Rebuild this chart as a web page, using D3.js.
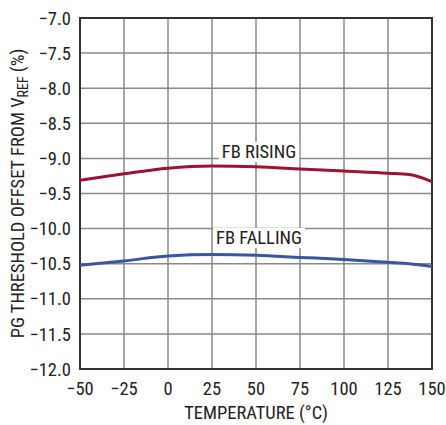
<!DOCTYPE html>
<html lang="en">
<head>
<meta charset="UTF-8">
<title>PG Threshold Offset</title>
<script src="https://d3js.org/d3.v7.min.js"></script>
<style>
    body { margin: 0; background: #fff; }
    svg { display: block; }
    text { font-family: 'Liberation Sans Narrow', 'Roboto Condensed', 'Liberation Sans', sans-serif; fill: #222; }
</style>
</head>
<body>
<script>
    const temps = [-50, -25, 0, 25, 50, 75, 100, 125, 137, 150];
    const fbRising = [-9.31, -9.22, -9.14, -9.11, -9.12, -9.15, -9.18, -9.21, -9.23, -9.33];
    const fbFalling = [-10.52, -10.46, -10.39, -10.37, -10.38, -10.41, -10.44, -10.48, -10.50, -10.54];
    const xTicks = [-50, -25, 0, 25, 50, 75, 100, 125, 150];
    const yTicks = [-7, -7.5, -8, -8.5, -9, -9.5, -10, -10.5, -11, -11.5, -12];

    const width = 446, height = 425;
    const pLeft = 80, pRight = 432, pTop = 18, pBottom = 369;
    const fs = 18.5;

    const svg = d3.select("body").append("svg")
        .attr("width", width)
        .attr("height", height);

    const x = d3.scaleLinear().domain([-50, 150]).range([pLeft, pRight]);
    const y = d3.scaleLinear().domain([-12, -7]).range([pBottom, pTop]);

    const minus = v => String(v).replace("-", "\u2212");

    // grid
    svg.append("g").selectAll("line").data(xTicks.slice(1, -1)).join("line")
        .attr("x1", d => x(d)).attr("x2", d => x(d))
        .attr("y1", pTop).attr("y2", pBottom)
        .attr("stroke", "#8a8a8a").attr("stroke-width", 1.5);
    svg.append("g").selectAll("line").data(yTicks.slice(1, -1)).join("line")
        .attr("x1", pLeft).attr("x2", pRight)
        .attr("y1", d => y(d)).attr("y2", d => y(d))
        .attr("stroke", "#8a8a8a").attr("stroke-width", 1.5);

    // frame
    svg.append("rect")
        .attr("x", pLeft).attr("y", pTop)
        .attr("width", pRight - pLeft).attr("height", pBottom - pTop)
        .attr("fill", "none").attr("stroke", "#333").attr("stroke-width", 2);

    // tick labels
    svg.append("g").selectAll("text").data(yTicks).join("text")
        .attr("x", pLeft - 9).attr("y", d => y(d)).attr("dy", "0.36em")
        .attr("text-anchor", "end").attr("font-size", fs)
        .text(d => minus(d.toFixed(1)));
    svg.append("g").selectAll("text").data(xTicks).join("text")
        .attr("x", d => x(d)).attr("y", pBottom + 26)
        .attr("text-anchor", "middle").attr("font-size", fs)
        .text(d => minus(d));

    // curves
    const line = d3.line()
        .x((d, i) => x(temps[i]))
        .y(d => y(d))
        .curve(d3.curveMonotoneX);

    svg.append("path").datum(fbRising)
        .attr("d", line).attr("fill", "none")
        .attr("stroke", "#9b1432").attr("stroke-width", 3);
    svg.append("path").datum(fbFalling)
        .attr("d", line).attr("fill", "none")
        .attr("stroke", "#3a55a6").attr("stroke-width", 3);

    // curve labels with white backing
    function curveLabel(txt, cx, by) {
        const t = svg.append("text")
            .attr("x", cx).attr("y", by)
            .attr("text-anchor", "middle").attr("font-size", fs)
            .text(txt);
        const b = t.node().getBBox();
        svg.insert("rect", () => t.node())
            .attr("x", b.x - 3).attr("y", b.y + 1)
            .attr("width", b.width + 6).attr("height", b.height - 2)
            .attr("fill", "#fff");
    }
    curveLabel("FB RISING", 259, 158);
    curveLabel("FB FALLING", 259, 244);

    // axis titles
    svg.append("text")
        .attr("x", (pLeft + pRight) / 2).attr("y", 419)
        .attr("text-anchor", "middle").attr("font-size", fs)
        .text("TEMPERATURE (\u00B0C)");

    const yt = svg.append("text")
        .attr("transform", `translate(24, ${(pTop + pBottom) / 2}) rotate(-90)`)
        .attr("text-anchor", "middle").attr("font-size", fs);
    yt.append("tspan").text("PG THRESHOLD OFFSET FROM V");
    yt.append("tspan").attr("font-size", 14).attr("dy", 4).text("REF");
    yt.append("tspan").attr("dy", -4).text(" (%)");
</script>
</body>
</html>
